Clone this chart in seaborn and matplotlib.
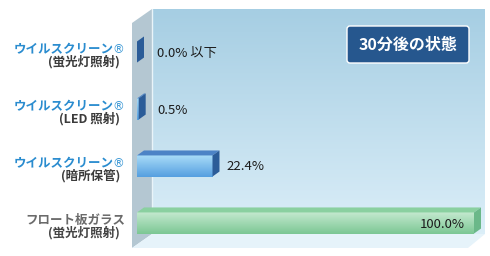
import numpy as np
import matplotlib
matplotlib.use("Agg")
import matplotlib.pyplot as plt
import seaborn as sns
import pandas as pd
from matplotlib.patches import Polygon, FancyBboxPatch
from matplotlib.transforms import blended_transform_factory
from matplotlib.colors import to_rgb

# ---------------- data ----------------
categories = ["c1", "c2", "c3", "c4"]
materials = ["ウイルスクリーン", "ウイルスクリーン", "ウイルスクリーン", "フロート板ガラス"]
label_line2 = ["(蛍光灯照射)", "(LED 照射)", "(暗所保管)", "(蛍光灯照射)"]
registered = [True, True, True, False]
values = [0.0, 0.5, 22.4, 100.0]
value_labels = ["0.0% 以下", "0.5%", "22.4%", "100.0%"]
title = "30分後の状態"

# ---------------- style ----------------
sns.set_theme(style="white")
plt.rcParams['font.family'] = ['Noto Sans CJK JP', 'DejaVu Sans']

W, H = 490, 256
DPI = 100
PT = 72 / DPI  # points per pixel
fig = plt.figure(figsize=(W / DPI, H / DPI), dpi=DPI)
fig.patch.set_facecolor("white")

# background axes in pixel coordinates
bg = fig.add_axes([0, 0, 1, 1], zorder=0)
bg.set_xlim(0, W)
bg.set_ylim(H, 0)
bg.axis("off")


def vgrad(ax, extent, top, bottom, clip, z):
    t = np.linspace(0, 1, 64)[:, None]
    c0, c1 = np.array(to_rgb(top)), np.array(to_rgb(bottom))
    img = (c0[None, None, :] * (1 - t[..., None]) + c1[None, None, :] * t[..., None])
    im = ax.imshow(img, extent=extent, origin="upper", aspect="auto", zorder=z,
                   interpolation="bilinear")
    im.set_clip_path(clip)
    return im


# room: back wall, left wall, floor
back = Polygon([(152, 9), (485, 9), (485, 234), (152, 234)], closed=True,
               fc="none", ec="none")
bg.add_patch(back)
vgrad(bg, (152, 485, 234, 9), "#a6cee3", "#dbeef8", back, 1)
left = Polygon([(132, 23), (152, 9), (152, 234), (132, 248)], closed=True,
               fc="#b4c7d2", ec="none", zorder=1)
bg.add_patch(left)
floor = Polygon([(152, 234), (485, 234), (468, 248), (132, 248)], closed=True,
                fc="#e6f3fa", ec="none", zorder=1)
bg.add_patch(floor)
bg.plot([152, 152], [9, 234], color="#e9f4f9", lw=1.0, zorder=2)
bg.set_xlim(0, W)
bg.set_ylim(H, 0)

# title box
box = FancyBboxPatch((347, 26), 122, 37, boxstyle="round,pad=0,rounding_size=3",
                     fc="#26578e", ec="white", lw=1.0, zorder=3)
bg.add_patch(box)
bg.text(408, 45, title, color="white", fontsize=11.5, fontweight="bold",
        ha="center", va="center", zorder=4)

# ---------------- main bar axes ----------------
ax = fig.add_axes([132 / W, 1 - 248 / H, (485 - 132) / W, (248 - 9) / H], zorder=1)
ax.patch.set_alpha(0)
df = pd.DataFrame({"cat": categories, "value": values, "material": materials})
palette = {"ウイルスクリーン": "#5aa8e6", "フロート板ガラス": "#86cc9c"}
sns.barplot(data=df, x="value", y="cat", hue="material", palette=palette,
            orient="h", width=0.37, dodge=False, legend=False, ax=ax,
            saturation=1, zorder=3)

px_per_x = 3.37
px_per_y = 57.0
ax.set_xlim(-5 / px_per_x, 348 / px_per_x)
ax.set_ylim(3 + 25 / px_per_y, -43 / px_per_y)
ax.axis("off")
ax.set_autoscale_on(False)

faces = {
    "ウイルスクリーン": dict(top="#a9dcf8", bottom="#559fe0", lid="#4c83c6", side="#2b5c98"),
    "フロート板ガラス": dict(top="#c4e9cf", bottom="#7cc794", lid="#8ad0a0", side="#6bb889"),
}

# depth in data units from the axes transforms
p0 = ax.transData.transform((0, 0))
p1 = ax.transData.transform((1, 1))
ppx = p1[0] - p0[0]
ppy = p0[1] - p1[1]
dxd = 7 / ppx
dyd = 5 / ppy

bars = sorted([p for p in ax.patches if p.get_height() > 0], key=lambda p: p.get_y())
for i, p in enumerate(bars):
    f = faces[materials[i]]
    x0, y0, w, h = p.get_x(), p.get_y(), p.get_width(), p.get_height()
    p.set_edgecolor("none")
    # front face gradient
    if w > 0:
        vgrad(ax, (x0, x0 + w, y0 + h, y0), f["top"], f["bottom"], p, 4)
    # top face
    lid = Polygon([(x0, y0), (x0 + w, y0), (x0 + w + dxd, y0 - dyd), (x0 + dxd, y0 - dyd)],
                  closed=True, fc=f["lid"], ec="none", zorder=5)
    ax.add_patch(lid)
    # side face
    side = Polygon([(x0 + w, y0), (x0 + w + dxd, y0 - dyd), (x0 + w + dxd, y0 + h - dyd),
                    (x0 + w, y0 + h)], closed=True, fc=f["side"], ec="none", zorder=5)
    ax.add_patch(side)

    # value label
    yc = y0 + h / 2
    if values[i] >= 90:
        ax.annotate(value_labels[i], xy=(x0 + w, yc), xytext=(-9 * PT, -4.5 * PT),
                    textcoords="offset points", ha="right", va="baseline",
                    fontsize=9.5, color="#1c1c1c", zorder=6)
    else:
        vpx = w * ppx
        off = max(14, 20 - vpx)
        ax.annotate(value_labels[i], xy=(x0 + w, yc), xytext=(off * PT, -4.5 * PT),
                    textcoords="offset points", ha="left", va="baseline",
                    fontsize=9.5, color="#1c1c1c", zorder=6)

ax.set_xlim(-5 / px_per_x, 348 / px_per_x)
ax.set_ylim(3 + 25 / px_per_y, -43 / px_per_y)

# category labels (x in pixel coords, y in data coords)
tr = blended_transform_factory(bg.transData, ax.transData)
for i, cat in enumerate(categories):
    yc = i
    if registered[i]:
        ax.annotate(materials[i], xy=(114, yc), xycoords=tr, xytext=(0, -1 * PT),
                    textcoords="offset points", ha="right", va="baseline",
                    fontsize=9, fontweight="bold", color="#2a8ccf", annotation_clip=False)
        ax.annotate("®", xy=(112.5, yc), xycoords=tr, xytext=(0, -1.5 * PT),
                    textcoords="offset points", ha="left", va="baseline",
                    fontsize=8.5, color="#3f9ad6", family="DejaVu Sans",
                    annotation_clip=False)
        c1 = "#3b3b3b"
    else:
        ax.annotate(materials[i], xy=(125, yc), xycoords=tr, xytext=(0, -1 * PT),
                    textcoords="offset points", ha="right", va="baseline",
                    fontsize=9, fontweight="bold", color="#6a6a6a", annotation_clip=False)
        c1 = "#444444"
    ax.annotate(label_line2[i], xy=(120, yc), xycoords=tr, xytext=(0, -14 * PT),
                textcoords="offset points", ha="right", va="baseline",
                fontsize=9, fontweight="bold", color=c1, annotation_clip=False)

fig.savefig("out.png", dpi=DPI, facecolor="white")
